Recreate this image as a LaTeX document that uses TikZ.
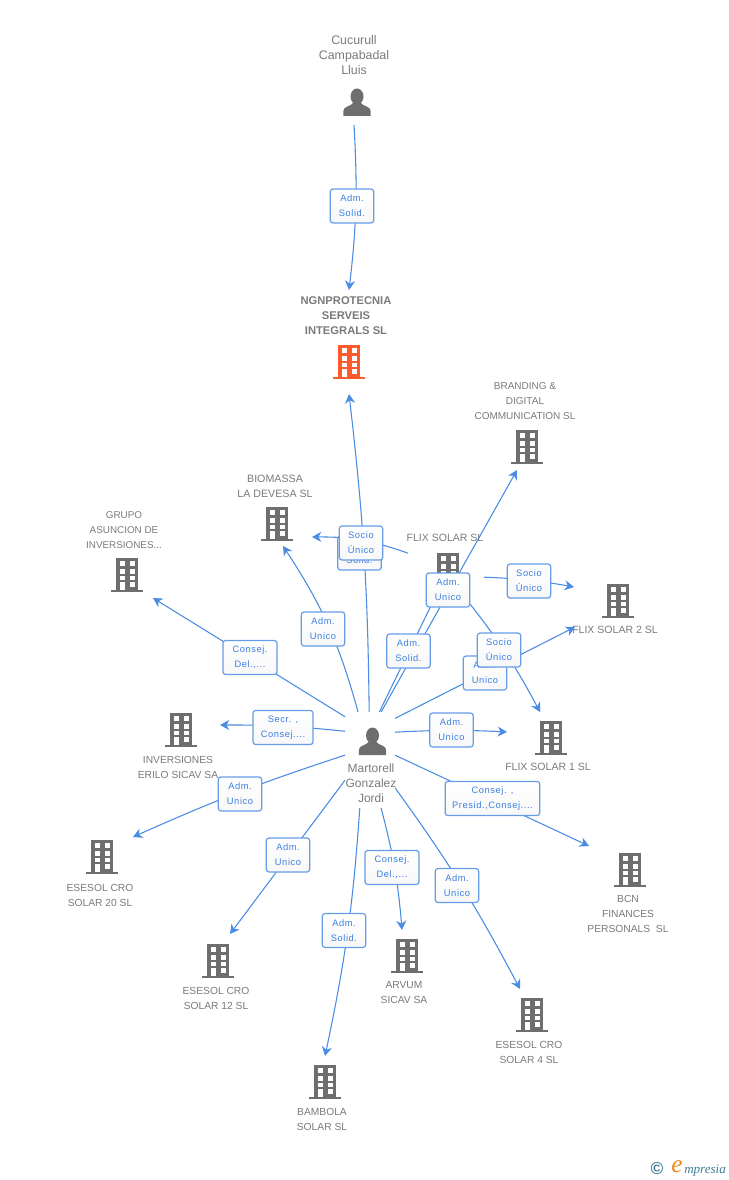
\documentclass[tikz,border=0pt]{standalone}
\usepackage{fontspec}
\setmainfont{Liberation Sans}
\newfontfamily\tagfont[LetterSpace=6]{Liberation Sans}
\newfontfamily\logofont{Liberation Serif}
\usetikzlibrary{arrows.meta, positioning}
\definecolor{iconGrey}{HTML}{6E6E6E}
\definecolor{iconRed}{HTML}{FF5A2B}
\definecolor{capGrey}{HTML}{7A7A7A}
\definecolor{linkBlue}{HTML}{4A8BE3}
\definecolor{tagBlue}{HTML}{3C7FE0}
\definecolor{logoTeal}{HTML}{3F7C94}
\definecolor{logoOrange}{HTML}{F08A1D}
\tikzset{
  caption/.style={align=center,text=capGrey,font=\fontsize{7.7pt}{11.25pt}\selectfont,inner sep=0pt},
  tagbox/.style={draw=linkBlue!85,line width=0.9pt,rounded corners=2pt,top color=white,bottom color=black!3,
    text=tagBlue,font=\tagfont\fontsize{7pt}{11.25pt}\selectfont,align=center,inner sep=0pt,
    minimum width=32.5pt,minimum height=25.5pt},
  link/.style={draw=linkBlue,line width=0.8pt},
  arrowlink/.style={link,-{Stealth[length=7pt,width=7.5pt]}},
  anchorbox/.style={inner sep=0pt,outer sep=0pt},
  pics/building/.style={code={
    \fill[#1] (-11.3,-34) rectangle (11.3,-2);
    \fill[#1] (-15.7,-2) rectangle (15.7,0);
    \foreach \wy in {-30.7,-23,-16.3}{
      \fill[white] (-7.3,\wy) rectangle (-2.3,\wy+4.5);
      \fill[white] (2.7,\wy) rectangle (7.7,\wy+4.5);
    }
    \fill[white] (-7.3,-10) rectangle (-2.3,-2);
    \fill[white] (2.7,-10) rectangle (7.7,-5.5);
  }},
  pics/person/.style={code={
    \fill[iconGrey] (0,-19.5) ellipse (6.5 and 8);
    \fill[iconGrey] (-13.7,0) -- (-13.7,-5) .. controls (-13.5,-10) and (-6,-9.5) .. (-4,-13)
      -- (4,-13) .. controls (6,-9.5) and (13.5,-10) .. (13.7,-5) -- (13.7,0) -- cycle;
  }}
}
\begin{document}
\begin{tikzpicture}[x=0.75pt,y=-0.75pt]
\useasboundingbox (0,0) rectangle (728,1180);
% icons
\pic (iconCucurull) at (357,116) {person};
\pic (iconHub) at (372.5,755) {person};
\pic (iconNgn) at (349,379) {building=iconRed};
\pic (iconBranding) at (527,464) {building=iconGrey};
\pic (iconBiomassa) at (277,541) {building=iconGrey};
\pic (iconFlix) at (448,587) {building=iconGrey};
\pic (iconGrupo) at (127,592) {building=iconGrey};
\pic (iconFlixTwo) at (618,618) {building=iconGrey};
\pic (iconInversiones) at (181,747) {building=iconGrey};
\pic (iconFlixOne) at (551,755) {building=iconGrey};
\pic (iconEsesolTwenty) at (102,874) {building=iconGrey};
\pic (iconBcn) at (630,887) {building=iconGrey};
\pic (iconEsesolTwelve) at (218,978) {building=iconGrey};
\pic (iconArvum) at (407,973) {building=iconGrey};
\pic (iconEsesolFour) at (532,1032) {building=iconGrey};
\pic (iconBambola) at (325,1099) {building=iconGrey};
% captions
\node[caption,font=\fontsize{9.3pt}{11.25pt}\selectfont] (capCucurull) at (354,55) {Cucurull\\Campabadal\\Lluis};
\node[caption,font=\bfseries\fontsize{8.4pt}{11.25pt}\selectfont] (capNgn) at (346,316) {NGNPROTECNIA\\SERVEIS\\INTEGRALS SL};
\node[caption,font=\fontsize{7.5pt}{11.25pt}\selectfont] (capBranding) at (525,401) {BRANDING \&\\DIGITAL\\COMMUNICATION SL};
\node[caption,font=\fontsize{8pt}{11.25pt}\selectfont] (capBiomassa) at (275,486) {BIOMASSA\\LA DEVESA SL};
\node[caption,font=\fontsize{7.4pt}{11.25pt}\selectfont] (capGrupo) at (124,530) {GRUPO\\ASUNCION DE\\INVERSIONES...};
\node[caption,font=\fontsize{7.9pt}{11.25pt}\selectfont] (capFlix) at (445,538) {FLIX SOLAR SL};
\node[caption,font=\fontsize{7.9pt}{11.25pt}\selectfont] (capFlixTwo) at (615,630) {FLIX SOLAR 2 SL};
\node[caption,font=\fontsize{7.9pt}{11.25pt}\selectfont] (capFlixOne) at (548,767) {FLIX SOLAR 1 SL};
\node[caption] (capInversiones) at (178,767) {INVERSIONES\\ERILO SICAV SA};
\node[caption] (capEsesolTwenty) at (100,895) {ESESOL CRO\\SOLAR 20 SL};
\node[caption] (capBcn) at (628,914) {BCN\\FINANCES\\PERSONALS\ \ SL};
\node[caption] (capEsesolTwelve) at (216,998) {ESESOL CRO\\SOLAR 12 SL};
\node[caption] (capArvum) at (404,993) {ARVUM\\SICAV SA};
\node[caption] (capEsesolFour) at (529,1052) {ESESOL CRO\\SOLAR 4 SL};
\node[caption] (capBambola) at (322,1119) {BAMBOLA\\SOLAR SL};
\node[caption,font=\fontsize{9pt}{11.25pt}\selectfont] (capHub) at (371,783) {Martorell\\Gonzalez\\Jordi};
% boxes the links start from
\node[anchorbox,minimum width=37.5pt,minimum height=72pt] (hub) at (370,760) {};
\node[anchorbox,minimum width=57pt,minimum height=55.5pt] (flix) at (446,567) {};
\coordinate (startCucurull) at (354,125);
% arrow ends
\coordinate (tipNgnTop) at (349,290);
\coordinate (tipNgnBottom) at (349,394);
\coordinate (tipBranding) at (517,470);
\coordinate (tipBiomassaA) at (312,537);
\coordinate (tipBiomassaB) at (283,546);
\coordinate (tipGrupo) at (153,598);
\coordinate (tipInversiones) at (220,725);
\coordinate (tipEsesolTwenty) at (133,837);
\coordinate (tipEsesolTwelve) at (230,934);
\coordinate (tipBambola) at (325,1056);
\coordinate (tipArvum) at (402,930);
\coordinate (tipEsesolFour) at (520,989);
\coordinate (tipBcn) at (589,846);
\coordinate (tipFlixOneA) at (507,732);
\coordinate (tipFlixOneB) at (540,712);
\coordinate (tipFlixTwoA) at (574,587);
\coordinate (tipFlixTwoB) at (575,627);
% links
\draw[arrowlink] (startCucurull) to[bend left=5] (tipNgnTop);
\draw[arrowlink] (hub.91) to[bend right=3] (tipNgnBottom);
\draw[arrowlink] (flix.160) to[bend right=10] (tipBiomassaA);
\draw[arrowlink] (hub.104) to[bend right=9] (tipBiomassaB);
\draw[arrowlink] (hub.120) to (tipGrupo);
\draw[arrowlink] (hub.131) to[bend right=3] (tipInversiones);
\draw[arrowlink] (hub.169) to[bend right=3] (tipEsesolTwenty);
\draw[arrowlink] (hub.219) to (tipEsesolTwelve);
\draw[arrowlink] (hub.258) to[bend left=4] (tipBambola);
\draw[arrowlink] (hub.283) to[bend left=5] (tipArvum);
\draw[arrowlink] (hub.312) to[bend left=4] (tipEsesolFour);
\draw[arrowlink] (hub.11) to (tipBcn);
\draw[arrowlink] (hub.48) to[bend left=3] (tipFlixOneA);
\draw[arrowlink] (hub.59) to (tipFlixTwoB);
\draw[arrowlink] (hub.77) to (tipBranding);
\draw[link] (hub.79) to (flix.249);
\draw[arrowlink] (flix.345) to[bend left=4] (tipFlixTwoA);
\draw[arrowlink] (flix.303) to[bend left=5] (tipFlixOneB);
% tags
\node[tagbox] (tagCucurull) at (352,206) {Adm.\\Solid.};
\node[tagbox] (tagNgn) at (359.5,553) {Adm.\\Solid.};
\node[tagbox] (tagBiomassaA) at (361,543) {Socio\\Único};
\node[tagbox] (tagBiomassaB) at (323,629) {Adm.\\Unico};
\node[tagbox,minimum width=40.5pt] (tagGrupo) at (250,657.5) {Consej.\\Del.,...};
\node[tagbox,minimum width=45pt] (tagInversiones) at (283,727.5) {Secr. ,\\Consej....};
\node[tagbox] (tagEsesolTwenty) at (240,794) {Adm.\\Unico};
\node[tagbox] (tagEsesolTwelve) at (288,855) {Adm.\\Unico};
\node[tagbox] (tagBambola) at (344,930.5) {Adm.\\Solid.};
\node[tagbox,minimum width=40.5pt] (tagArvum) at (392,867.5) {Consej.\\Del.,...};
\node[tagbox] (tagEsesolFour) at (457,885.5) {Adm.\\Unico};
\node[tagbox,minimum width=71pt] (tagBcn) at (492.5,798.5) {Consej. ,\\Presid.,Consej....};
\node[tagbox] (tagFlixOneA) at (451.5,730) {Adm.\\Unico};
\node[tagbox] (tagFlixTwoB) at (485,673) {Adm.\\Unico};
\node[tagbox] (tagFlixSolid) at (408.5,651) {Adm.\\Solid.};
\node[tagbox] (tagBranding) at (448,590) {Adm.\\Unico};
\node[tagbox] (tagFlixTwoA) at (529,581) {Socio\\Único};
\node[tagbox] (tagFlixOneB) at (499,650) {Socio\\Único};
% logo
\node[inner sep=0pt,text=logoTeal,font=\bfseries\fontsize{13pt}{13pt}\selectfont] (logoMark) at (657,1169) {©};
\node[inner sep=0pt,text=logoOrange,font=\logofont\itshape\fontsize{19pt}{19pt}\selectfont] (logoE) at (677,1167) {e};
\node[inner sep=0pt,anchor=west,text=logoTeal,font=\logofont\itshape\fontsize{9.8pt}{10pt}\selectfont] (logoText) at (684,1171) {mpresia};
\end{tikzpicture}
\end{document}
